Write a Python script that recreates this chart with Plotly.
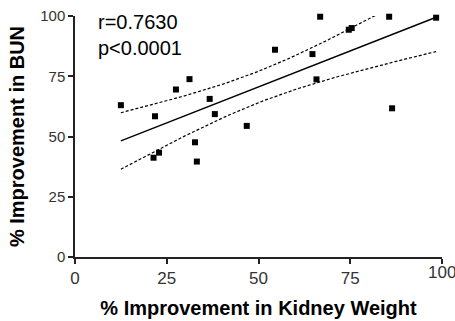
import numpy as np
import plotly.graph_objects as go

# Data
kidney_weight = [12.5, 21.4, 21.8, 22.9, 27.5, 31.2, 32.7, 33.2, 36.7, 38.1,
                 46.8, 54.5, 64.7, 65.8, 66.8, 74.6, 75.4, 85.6, 86.4, 98.4]
bun = [63.0, 41.2, 58.4, 43.3, 69.5, 73.8, 47.6, 39.6, 65.6, 59.3,
       54.4, 86.0, 84.2, 73.7, 99.7, 94.3, 95.0, 99.7, 61.7, 99.3]
stats_text = "r=0.7630<br>p&lt;0.0001"
x_ticks = [0, 25, 50, 75, 100]
y_ticks = [0, 25, 50, 75, 100]
x_range = [0, 100]

x = np.array(kidney_weight)
y = np.array(bun)
n = len(x)
slope, intercept = np.polyfit(x, y, 1)
xs = np.linspace(x.min(), x.max(), 100)
yfit = intercept + slope * xs
resid = y - (intercept + slope * x)
s = np.sqrt(np.sum(resid ** 2) / (n - 2))
sxx = np.sum((x - x.mean()) ** 2)
t_crit = 2.101  # t(0.975, df=18)
half = t_crit * s * np.sqrt(1 / n + (xs - x.mean()) ** 2 / sxx)

FONT = "Liberation Sans, Arial"
fig = go.Figure()
fig.add_trace(go.Scatter(x=xs, y=yfit + half, mode="lines",
                         line=dict(color="black", width=1.2, dash="3px,2px"),
                         hoverinfo="skip"))
fig.add_trace(go.Scatter(x=xs, y=yfit - half, mode="lines",
                         line=dict(color="black", width=1.2, dash="3px,2px"),
                         hoverinfo="skip"))
fig.add_trace(go.Scatter(x=xs, y=yfit, mode="lines",
                         line=dict(color="black", width=1.4), hoverinfo="skip"))
fig.add_trace(go.Scatter(x=kidney_weight, y=bun, mode="markers",
                         marker=dict(symbol="square", size=6, color="black"),
                         cliponaxis=False))

axis_common = dict(
    showgrid=False, zeroline=False, showline=True, linecolor="#222222", linewidth=1.5,
    ticks="outside", ticklen=5, tickwidth=1.5, tickcolor="#222222", automargin=False,
    ticklabeloverflow="allow",
)
# last x tick label is drawn as an annotation (Plotly hides it at the div edge)
x_ticktext = [str(v) for v in x_ticks[:-1]] + [""]
fig.update_layout(
    width=455, height=321,
    margin=dict(l=75, r=13, t=16, b=64),
    plot_bgcolor="white", paper_bgcolor="white",
    showlegend=False,
    xaxis=dict(range=x_range, tickvals=x_ticks, ticktext=x_ticktext, **axis_common,
               tickfont=dict(family=FONT, size=17, color="#333333"),
               title=dict(text="<b>% Improvement in Kidney Weight</b>", standoff=14,
                          font=dict(family=FONT, size=20, color="black"))),
    yaxis=dict(range=[0, 100], tickvals=y_ticks, **axis_common,
               tickfont=dict(family=FONT, size=15, color="#333333"),
               title=dict(text="<b>% Improvement in BUN</b>", standoff=10,
                          font=dict(family=FONT, size=20, color="black"))),
)
fig.add_annotation(text=str(x_ticks[-1]), xref="paper", yref="paper",
                   x=(x_ticks[-1] - x_range[0]) / (x_range[1] - x_range[0]), y=-0.022,
                   xanchor="center", yanchor="top", showarrow=False,
                   borderpad=0, font=dict(family=FONT, size=17, color="#333333"))
fig.add_annotation(text=stats_text, xref="paper", yref="paper", x=0.057, y=1.03,
                   xanchor="left", yanchor="top", showarrow=False, align="left",
                   font=dict(family=FONT, size=20, color="black"))
post = "document.body.style.margin='0';document.body.style.padding='0';"
fig.write_html("out.html", config={"displayModeBar": False}, post_script=post)
